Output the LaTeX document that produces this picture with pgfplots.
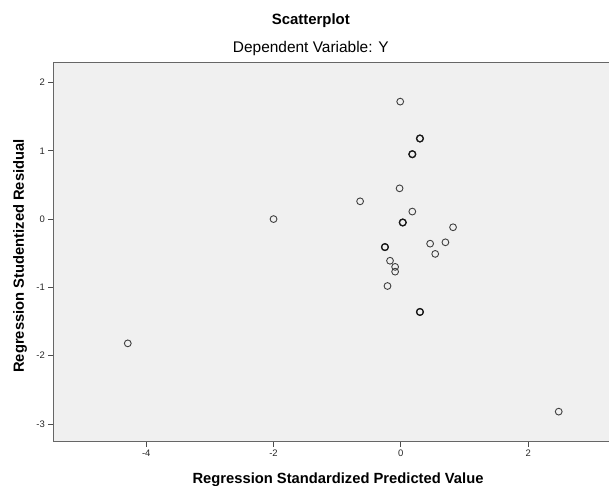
\documentclass[border=0pt]{standalone}
\usepackage{pgfplots}
\pgfplotsset{compat=1.18}
\usepackage{fontspec}
\setmainfont{Liberation Sans}
\begin{document}
\begin{tikzpicture}[x=1bp,y=1bp]
\begin{axis}[
  at={(0,0)}, anchor=south west,
  scale only axis, width=580bp, height=379bp,
  xmin=-5.46, xmax=3.652, ymin=-3.26, ymax=2.29,
  axis background/.style={fill=black!6},
  axis line style={draw=black!60, line width=1bp},
  xtick={-4,-2,0,2}, ytick={-3,-2,-1,0,1,2},
  tick align=outside, xtick pos=bottom, ytick pos=left,
  major tick length=5bp,
  tick style={black!70, line width=0.8bp},
  tick label style={font=\fontsize{9.5}{10}\selectfont, text=black!85},
  /pgf/number format/assume math mode=true,
  xlabel={Regression Standardized Predicted Value},
  ylabel={Regression Studentized Residual},
  xlabel style={at={(axis description cs:0.4909,-0.1116)}, anchor=base, font=\bfseries\fontsize{14.8}{16}\selectfont},
  ylabel style={at={(axis description cs:-0.0574,0.49)}, anchor=center, font=\bfseries\fontsize{14.8}{16}\selectfont},
  clip=false,
]
\addplot[only marks, mark=o, mark size=3.4bp, mark options={draw=black!75, line width=0.9bp}] coordinates {
(-0.01,1.72) (0.30,1.18) (0.18,0.95) (-0.02,0.45) (-0.64,0.26) (0.18,0.11)
(0.03,-0.05) (0.82,-0.12) (-0.25,-0.41) (0.46,-0.36) (0.70,-0.34) (0.54,-0.51)
(-0.17,-0.61) (-0.09,-0.70) (-0.09,-0.77) (-0.21,-0.98) (0.30,-1.36)
(-2.00,0.00) (-4.29,-1.82) (2.48,-2.82)
};
\addplot[only marks, mark=o, mark size=3.4bp, mark options={draw=black!90, line width=1.3bp}] coordinates {
(0.30,1.18) (0.03,-0.05) (-0.25,-0.41) (0.30,-1.36) (0.18,0.95)
};
\node[anchor=base, font=\bfseries\fontsize{15}{16}\selectfont] at (axis description cs:0.444,1.1008) {Scatterplot};
\node[anchor=base, font=\fontsize{15.5}{16}\selectfont] at (axis description cs:0.444,1.0282) {Dependent Variable: Y};
\end{axis}
\pgfresetboundingbox
\path (-53.3,-44.3) rectangle (555.7,441.7);
\end{tikzpicture}
\end{document}
